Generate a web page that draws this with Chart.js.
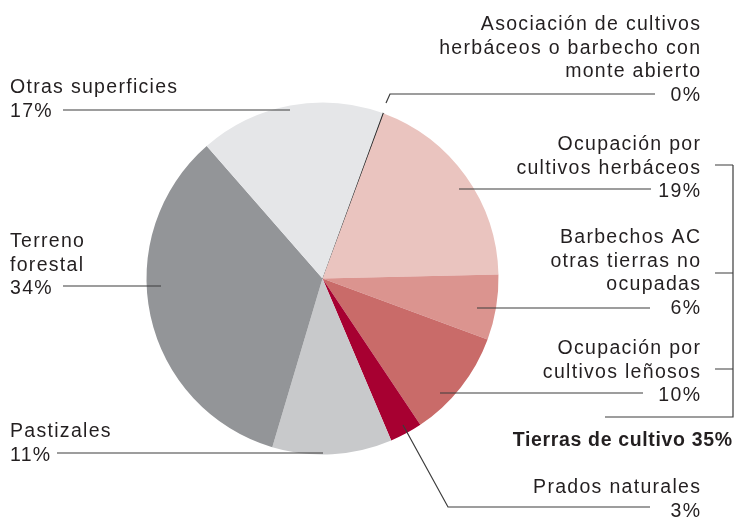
<!DOCTYPE html>
<html>
<head>
<meta charset="utf-8">
<script src="https://cdn.jsdelivr.net/npm/chart.js@4/dist/chart.umd.min.js"></script>
<style>
  html, body { margin: 0; padding: 0; background: #ffffff; }
  #wrap { position: relative; width: 734px; height: 517px; }
</style>
</head>
<body>
<div id="wrap"><canvas id="c" width="734" height="517"></canvas></div>
<script>
// ---- data ----
const categories = [
  "Asociación de cultivos herbáceos o barbecho con monte abierto",
  "Ocupación por cultivos herbáceos",
  "Barbechos AC otras tierras no ocupadas",
  "Ocupación por cultivos leñosos",
  "Prados naturales",
  "Pastizales",
  "Terreno forestal",
  "Otras superficies"
];
const shares = [0.1, 19, 6, 10, 3, 11, 34, 17];
const shareLabels = ["0%", "19%", "6%", "10%", "3%", "11%", "34%", "17%"];
const colors = ["#2b2b2b", "#eac4bf", "#db948f", "#c96b69", "#a70031", "#c8c9cb", "#939598", "#e5e6e8"];
const groupLabel = "Tierras de cultivo 35%";

// ---- label layout (text lines, anchor, leader polyline) ----
const labelLayout = [
  { lines: ["Asociación de cultivos", "herbáceos o barbecho con", "monte abierto", shareLabels[0]], x: 700, y: 30, align: "right",
    leader: [[386, 103], [390, 94], [655, 94]] },
  { lines: ["Ocupación por", "cultivos herbáceos", shareLabels[1]], x: 700, y: 150, align: "right",
    leader: [[459, 189], [651, 189]] },
  { lines: ["Barbechos AC", "otras tierras no", "ocupadas", shareLabels[2]], x: 700, y: 243, align: "right",
    leader: [[477, 308], [650, 308]] },
  { lines: ["Ocupación por", "cultivos leñosos", shareLabels[3]], x: 700, y: 354, align: "right",
    leader: [[440, 393], [643, 393]] },
  { lines: ["Prados naturales", shareLabels[4]], x: 700, y: 493, align: "right",
    leader: [[403, 425], [448, 507], [650, 507]] },
  { lines: ["Pastizales", shareLabels[5]], x: 10, y: 437, align: "left",
    leader: [[57, 453], [323, 453]] },
  { lines: ["Terreno", "forestal", shareLabels[6]], x: 10, y: 247, align: "left",
    leader: [[63, 286], [161, 286]] },
  { lines: ["Otras superficies", shareLabels[7]], x: 10, y: 93, align: "left",
    leader: [[63, 110], [290, 110]] }
];
const bracket = { x: 733, top: 165, bottom: 417, ticks: [[715, 165], [715, 273], [715, 369]], bottomStart: 605 };
const groupLabelPos = { x: 732, y: 446 };

const FONT = '"Liberation Sans", Arial, sans-serif';
const FONT_SIZE = 19.5;
const LINE_H = 23.7;
const SPACING = 1.3;
const BOLD_SPACING = 0.65;

const annotate = {
  id: "annotate",
  afterDraw(chart) {
    const ctx = chart.ctx;
    ctx.save();
    ctx.strokeStyle = "#3c3c3c";
    ctx.lineWidth = 1.2;
    labelLayout.forEach(l => {
      ctx.beginPath();
      l.leader.forEach((p, i) => i ? ctx.lineTo(p[0], p[1]) : ctx.moveTo(p[0], p[1]));
      ctx.stroke();
    });
    // bracket
    ctx.beginPath();
    bracket.ticks.forEach(t => { ctx.moveTo(t[0], t[1]); ctx.lineTo(bracket.x, t[1]); });
    ctx.moveTo(bracket.x, bracket.top);
    ctx.lineTo(bracket.x, bracket.bottom);
    ctx.lineTo(bracket.bottomStart, bracket.bottom);
    ctx.stroke();

    ctx.fillStyle = "#231f20";
    ctx.textBaseline = "alphabetic";
    ctx.font = FONT_SIZE + "px " + FONT;
    ctx.letterSpacing = SPACING + "px";
    labelLayout.forEach(l => {
      ctx.textAlign = l.align;
      const dx = l.align === "right" ? SPACING : 0;
      l.lines.forEach((s, i) => ctx.fillText(s, l.x + dx, l.y + i * LINE_H));
    });
    ctx.font = "bold " + FONT_SIZE + "px " + FONT;
    ctx.letterSpacing = BOLD_SPACING + "px";
    ctx.textAlign = "right";
    ctx.fillText(groupLabel, groupLabelPos.x + BOLD_SPACING, groupLabelPos.y);
    ctx.restore();
  }
};

new Chart(document.getElementById("c"), {
  type: "pie",
  data: {
    labels: categories,
    datasets: [{
      data: shares,
      backgroundColor: colors,
      borderColor: colors,
      borderWidth: [1, 0, 0, 0, 0, 0, 0, 0]
    }]
  },
  options: {
    responsive: false,
    animation: false,
    rotation: 20,
    layout: { padding: { left: 146, right: 235, top: 102, bottom: 62 } },
    plugins: { legend: { display: false }, tooltip: { enabled: false } }
  },
  plugins: [annotate]
});
</script>
</body>
</html>
